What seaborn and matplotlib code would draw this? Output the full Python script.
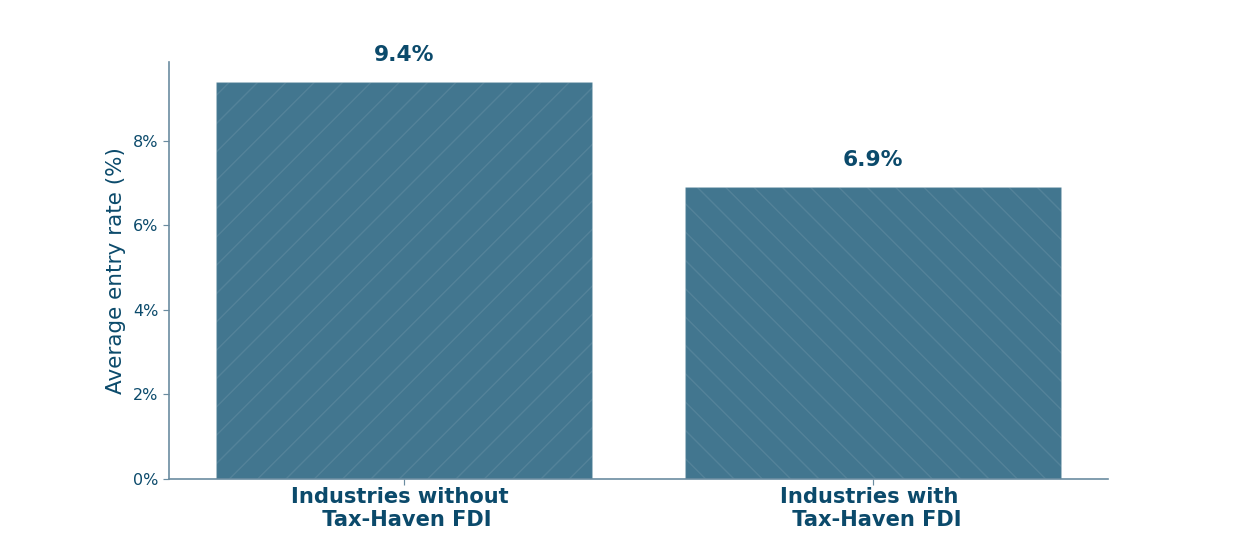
import matplotlib
matplotlib.use("Agg")
import matplotlib.pyplot as plt
import seaborn as sns
from matplotlib.ticker import FuncFormatter

categories = ["Industries without \n Tax-Haven FDI", "Industries with \n Tax-Haven FDI"]
entry_rates = [9.4, 6.9]
value_labels = ["9.4%", "6.9%"]
hatches = ["//", "\\\\"]

bar_color = "#42768f"
text_color = "#0b4a6b"
spine_color = "#6a8ca0"

sns.set_theme(style="ticks")
plt.rcParams["font.family"] = ["DejaVu Sans"]
plt.rcParams["hatch.linewidth"] = 0.6

# high dpi so the hatch spacing comes out close to the original
dpi = 170
fig = plt.figure(figsize=(1248 / dpi, 538 / dpi), dpi=dpi)
ax = fig.add_axes([0.1354, 0.1097, 0.7524, 0.7751])

sns.barplot(x=categories, y=entry_rates, color=bar_color, saturation=1,
            width=0.8, ax=ax)

for patch, h in zip(ax.patches, hatches):
    patch.set_facecolor(bar_color)
    patch.set_edgecolor((1, 1, 1, 0.09))
    patch.set_linewidth(0.6)
    patch.set_hatch(h)

ax.bar_label(ax.containers[0], labels=value_labels, padding=7.3,
             fontsize=9.2, fontweight="bold", color=text_color)

ax.yaxis.set_major_formatter(FuncFormatter(lambda v, _: f"{v:.0f}%"))
ax.set_ylabel("Average entry rate (%)", fontsize=9.1, color=text_color,
              labelpad=3)
ax.set_xlabel("")

ax.tick_params(axis="y", labelsize=6.8, colors=text_color, length=2.5,
               width=0.5, pad=2)
ax.tick_params(axis="x", labelsize=8.9, colors=text_color, length=2.5,
               width=0.5, pad=1)
for lab in ax.get_xticklabels():
    lab.set_fontweight("bold")
ax.tick_params(axis="both", color=spine_color)

sns.despine(ax=ax)
for side in ["left", "bottom"]:
    ax.spines[side].set_color(spine_color)
    ax.spines[side].set_linewidth(0.7)

fig.savefig("out.png", dpi=dpi)
